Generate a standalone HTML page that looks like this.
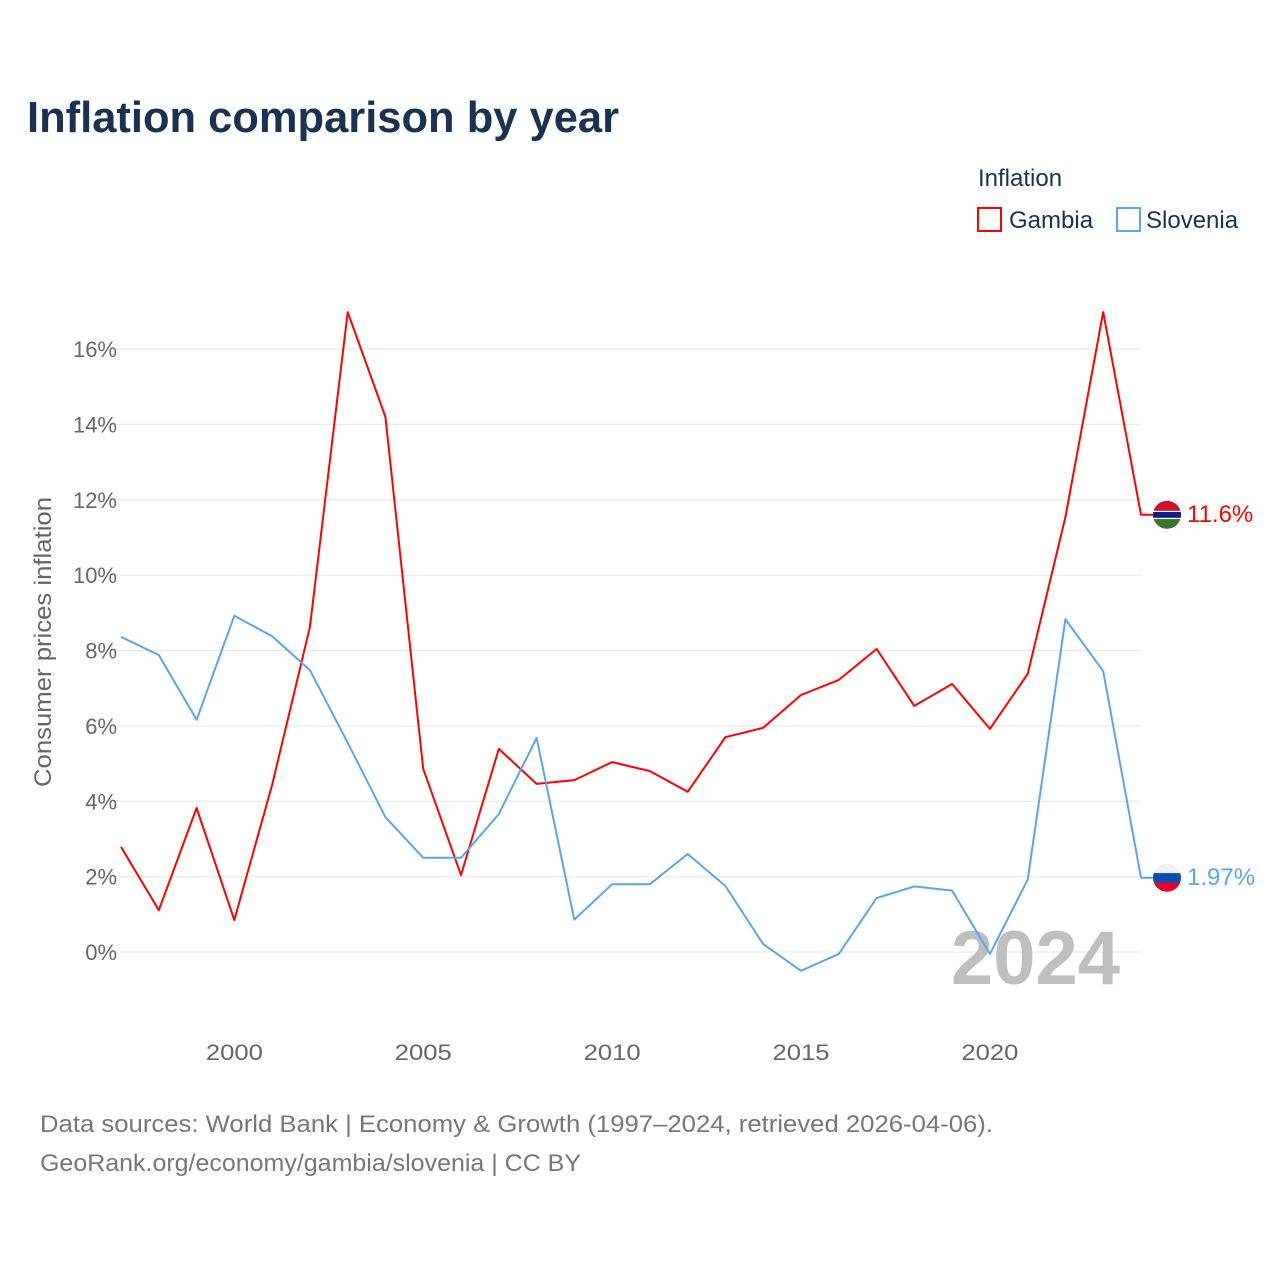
<!DOCTYPE html>
<html><head><meta charset="utf-8">
<style>
body{margin:0;background:#fff;font-family:"Liberation Sans",sans-serif;}
svg text{font-family:"Liberation Sans",sans-serif;}
</style></head>
<body>
<svg id="chart" width="1280" height="1280" viewBox="0 0 1280 1280" xmlns="http://www.w3.org/2000/svg">
<text x="27" y="132" font-size="44" font-weight="bold" fill="#1a3152" textLength="592" lengthAdjust="spacingAndGlyphs">Inflation comparison by year</text>
<g>
<text x="978" y="186" font-size="24" fill="#1a3152">Inflation</text>
<g><rect x="978" y="208" width="23" height="23" fill="none" stroke="#ff0000" stroke-width="2"/><text x="1009" y="228" font-size="24" fill="#1a3152">Gambia</text></g>
<g><rect x="1117" y="208" width="23" height="23" fill="none" stroke="#5aa5ea" stroke-width="2"/><text x="1146" y="228" font-size="24" fill="#1a3152">Slovenia</text></g>
</g>
<g id="grid"></g>
<g id="yticks"></g>
<g id="xticks"></g>
<text transform="translate(51,642) rotate(-90)" text-anchor="middle" font-size="24" fill="#666" textLength="290" lengthAdjust="spacingAndGlyphs">Consumer prices inflation</text>
<text x="1120" y="984" text-anchor="end" font-size="76" font-weight="bold" fill="#bfbfbf">2024</text>
<g id="series"></g>
<text x="40" y="1132" font-size="24" fill="#777" textLength="953" lengthAdjust="spacingAndGlyphs">Data sources: World Bank | Economy &amp; Growth (1997–2024, retrieved 2026-04-06).</text>
<text x="40" y="1171" font-size="24" fill="#777" textLength="541" lengthAdjust="spacingAndGlyphs">GeoRank.org/economy/gambia/slovenia | CC BY</text>
</svg>
<script>
const years = [1997,1998,1999,2000,2001,2002,2003,2004,2005,2006,2007,2008,2009,2010,2011,2012,2013,2014,2015,2016,2017,2018,2019,2020,2021,2022,2023,2024];
const gambia = [2.79,1.11,3.82,0.85,4.43,8.62,16.98,14.2,4.86,2.04,5.39,4.46,4.56,5.04,4.8,4.25,5.7,5.95,6.82,7.22,8.04,6.53,7.11,5.92,7.38,11.54,16.98,11.6];
const slovenia = [8.36,7.88,6.16,8.92,8.38,7.48,5.55,3.58,2.5,2.5,3.66,5.68,0.86,1.8,1.8,2.6,1.75,0.21,-0.5,-0.05,1.43,1.74,1.63,-0.05,1.92,8.83,7.45,1.97];
const yTicks = [0,2,4,6,8,10,12,14,16];
const xTicks = [2000,2005,2010,2015,2020];
const gambiaLabel = "11.6%";
const sloveniaLabel = "1.97%";

const NS="http://www.w3.org/2000/svg";
const X=v=>121+(v-1997)*(1141-121)/27;
const Y=v=>952-v*(952-349)/16;
function mk(tag,attrs,parent){const e=document.createElementNS(NS,tag);for(const k in attrs)e.setAttribute(k,attrs[k]);parent.appendChild(e);return e;}
const grid=document.getElementById('grid'),yt=document.getElementById('yticks'),xt=document.getElementById('xticks'),ser=document.getElementById('series');
yTicks.forEach(t=>{
  const l=mk('line',{x1:110,x2:1141,y1:Y(t),y2:Y(t),stroke:'#e6e6e6','stroke-width':1},grid);
  
  
  const tx=mk('text',{x:117,y:Y(t)+8,'text-anchor':'end','font-size':22,fill:'#666'},yt);
  tx.textContent=t+'%';
  
  
});
xTicks.forEach(t=>{
  const tx=mk('text',{x:X(t),y:1060,'text-anchor':'middle','font-size':22,fill:'#666',textLength:57,lengthAdjust:'spacingAndGlyphs'},xt);
  tx.textContent=t;
  
  
});
function drawLine(vals,color,name,label,flag){
  let d=vals.map((v,i)=>(i?'L':'M')+X(years[i]).toFixed(1)+','+Y(v).toFixed(1)).join(' ');
  const last=vals[vals.length-1];
  d+=' L1153,'+Y(last).toFixed(1);
  const p=mk('path',{d:d,fill:'none',stroke:color,'stroke-width':2,'stroke-linejoin':'round'},ser);
  
  
  const cy=Y(last)+0;
  const g=mk('g',{},ser);
  
  
  const cp=mk('clipPath',{id:'cp'+name},g);mk('circle',{cx:1167,cy:cy,r:14},cp);
  const f=mk('g',{'clip-path':'url(#cp'+name+')'},g);
  flag.forEach((c,i)=>mk('rect',{x:1150,y:cy-14+i*28/flag.length,width:34,height:28/flag.length+0.5,fill:c},f));
  if(name==='gambia'){mk('rect',{x:1150,y:cy-3,width:34,height:6,fill:'#0c1c8c'},f);mk('rect',{x:1150,y:cy-4,width:34,height:1.2,fill:'#fff'},f);mk('rect',{x:1150,y:cy+3,width:34,height:1.2,fill:'#fff'},f);}
  const t=mk('text',{x:1187,y:Y(last)+7,'font-size':24,fill:color},ser);
  t.textContent=label;
  
  
}
drawLine(gambia,'#ff0000','gambia',gambiaLabel,['#ce1126','#ce1126','#3a7728','#3a7728']);
drawLine(slovenia,'#5aa5ea','slovenia',sloveniaLabel,['#f0f0f0','#0050b4','#e4002b']);
</script>
</body></html>
